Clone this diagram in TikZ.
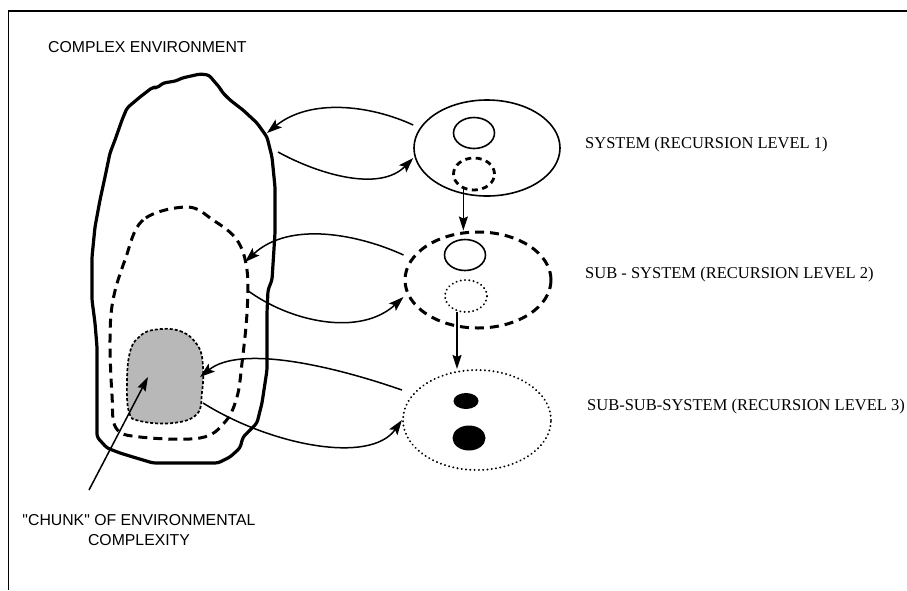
\documentclass[tikz,border=0pt]{standalone}
\usepackage{fontspec}
\setmainfont{Liberation Serif}
\newfontfamily\labelsans{Liberation Sans}
\usetikzlibrary{shapes.geometric,arrows.meta}

\begin{document}
\begin{tikzpicture}[x=1pt,y=-1pt,
  sysell/.style={ellipse,draw,inner sep=0pt,minimum width=146pt,minimum height=96pt},
  subell/.style={ellipse,draw,inner sep=0pt,minimum width=41pt,minimum height=31pt},
  solidline/.style={line width=1.6pt},
  thickdash/.style={line width=3pt,dash pattern=on 9pt off 6pt},
  finedash/.style={line width=2.8pt,dash pattern=on 6pt off 4.5pt},
  dotline/.style={line width=2.1pt,dash pattern=on 0.1pt off 4.2pt,line cap=round},
  flow/.style={line width=1.5pt,-{Stealth[length=15pt,width=10pt,inset=3pt]}},
  drop/.style={line width=1.5pt,-{Stealth[length=14pt,width=9pt,inset=2pt]}},
  serlabel/.style={anchor=west,inner sep=0pt,font=\fontsize{16.5}{19}\selectfont},
  sanslabel/.style={inner sep=0pt,font=\labelsans\fontsize{15.8}{20}\selectfont}
]
\useasboundingbox (0,0) rectangle (907,590);

% frame
\draw[line width=2.3pt] (907,11) -- (8,11);
\draw[line width=1.7pt] (8.5,11) -- (8.5,590);

% environment outline
\draw[line width=3.2pt,line join=round,rounded corners=3pt]
  (209,75) -- (200,74) -- (182,78) -- (176,81) -- (163,83) -- (157,88) -- (153,87)
  -- (140,97) -- (127,108) -- (122,120) -- (115,140) -- (110,153) -- (105,177)
  -- (100,200) -- (95,227) -- (92,257) -- (92,300) -- (95,323) -- (97,347)
  -- (97,437) -- (107,448) -- (120,453) -- (133,457) -- (153,463) -- (218,463)
  -- (230,457) -- (240,448) -- (243,437) -- (257,423) -- (262,403) -- (267,370)
  -- (267,313) -- (268,290) -- (272,280) -- (275,233) -- (275,187) -- (272,157)
  -- (267,137) -- (257,123) -- (243,110) -- (230,100) -- (222,92) -- (220,88)
  -- (213,80) -- cycle;

% sub-environment outline
\draw[thickdash] plot[smooth cycle,tension=0.6] coordinates {
  (187,207) (143,220) (125,260) (113,300) (110,340) (112,395) (116,428)
  (140,437) (200,438) (225,422) (237,397) (242,363) (247,313) (247,270)
  (237,240) (213,220)};

% chunk of environmental complexity
\draw[fill=black!28,line width=1.7pt,dash pattern=on 3pt off 2pt]
  plot[smooth cycle,tension=0.7] coordinates {
  (153,330) (180,331) (198,346) (203,367) (202,392) (197,414) (173,423)
  (140,421) (129,412) (127,380) (130,352) (138,338)};
\coordinate (chunk) at (148,377);

% systems
\node[sysell,solidline] (sys1) at (487,148) {};
\node[subell,solidline] (s1a) at (474,133) {};
\node[subell,finedash,minimum height=32pt] (s1b) at (474,174) {};

\node[sysell,thickdash] (sys2) at (478,280) {};
\node[subell,solidline] (s2a) at (465,255) {};
\node[subell,dotline,minimum width=42pt,minimum height=32pt] (s2b) at (466,296) {};

\node[sysell,dotline,minimum width=148pt,minimum height=100pt] (sys3) at (477,420) {};
\node[ellipse,fill=black,inner sep=0pt,minimum width=25pt,minimum height=16pt] (s3a) at (466,401) {};
\node[ellipse,fill=black,inner sep=0pt,minimum width=33pt,minimum height=25pt] (s3b) at (469,438) {};

% recursion steps
\draw[drop] (s1b.235) -- (s1b.235 |- sys2.north);
\draw[drop] (s2b.240) -- (s2b.240 |- sys3.north);

% exchanges with the environment
\coordinate (envA) at (267,133);
\coordinate (envB) at (278,152);
\coordinate (subA) at (245,262);
\coordinate (subB) at (247,290);
\coordinate (chA) at (200,377);
\coordinate (chB) at (203,403);

\draw[flow] (sys1.west |- 0,125) .. controls (370,105) and (310,98) .. (envA);
\draw[flow] (envB) .. controls (320,175) and (380,192) .. (sys1.west |- 0,158);
\draw[flow] (sys2.west |- 0,255) .. controls (360,235) and (290,220) .. (subA);
\draw[flow] (subB) .. controls (290,322) and (360,337) .. (sys2.west |- 0,297);
\draw[flow] (sys3.west |- 0,390) .. controls (330,365) and (240,345) .. (chA);
\draw[flow] (chB) .. controls (270,445) and (370,465) .. (sys3.west |- 0,420);

% labels
\node[sanslabel,anchor=base west] (envlabel) at (48,52) {COMPLEX ENVIRONMENT};
\node[sanslabel,align=center] (chunklabel) at (139,530) {"CHUNK" OF ENVIRONMENTAL\\COMPLEXITY};
\coordinate (ptr) at (89,490);
\draw[line width=1.5pt,-{Stealth[length=14pt,width=9pt,inset=2pt]}] (ptr) -- (chunk);

\node[serlabel] (l1) at (585,145) {SYSTEM (RECURSION LEVEL 1)};
\node[serlabel] (l2) at (585,275) {SUB - SYSTEM (RECURSION LEVEL 2)};
\node[serlabel] (l3) at (587,407) {SUB-SUB-SYSTEM (RECURSION LEVEL 3)};
\end{tikzpicture}
\end{document}
